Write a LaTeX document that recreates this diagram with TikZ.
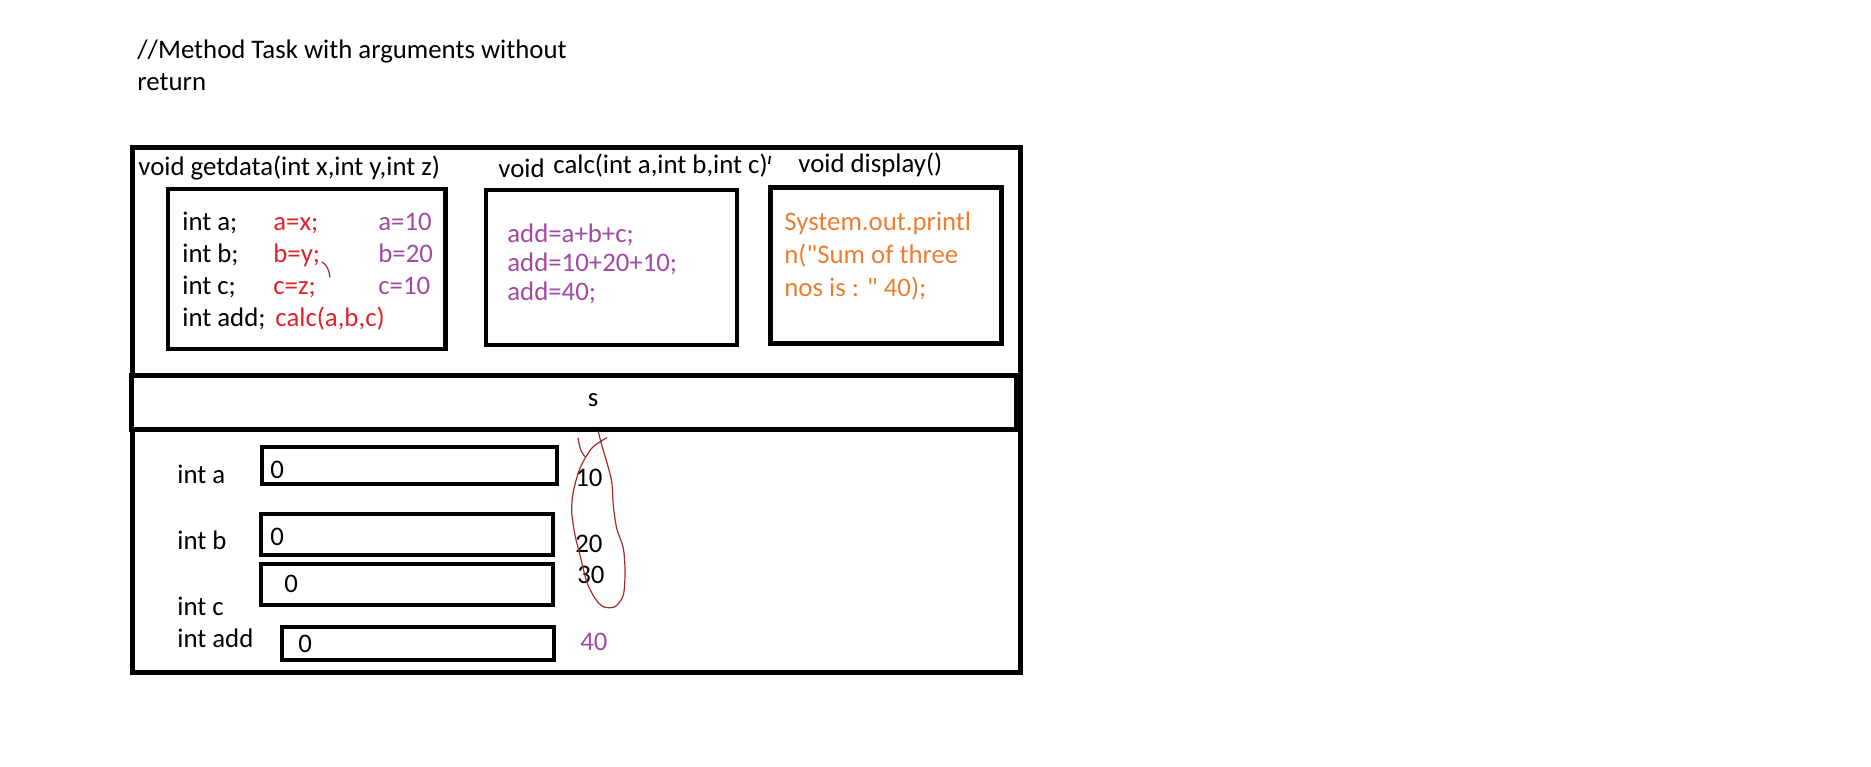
\documentclass[tikz,border=0pt]{standalone}
\usepackage{fontspec}
\setmainfont{Carlito}[Ligatures=TeXOff]
\usetikzlibrary{positioning}
\definecolor{codered}{RGB}{228,32,40}
\definecolor{codepurple}{RGB}{163,73,164}
\definecolor{codeorange}{RGB}{237,125,49}
\definecolor{inkred}{RGB}{165,42,42}

\begin{document}
\begin{tikzpicture}[
    x=0.5pt, y=-0.5pt,
    txt/.style={anchor=base west, inner sep=0pt,
                font=\fontsize{13.4pt}{15pt}\selectfont},
    frame/.style={draw, line width=2.5pt},
    cell/.style={draw, line width=2.4pt},
    ink/.style={draw=inkred, line width=0.6pt, line cap=round, line join=round}
]
\useasboundingbox (0,0) rectangle (1871,766);

% title
\node[txt] (title)  at (137,58) {//Method Task with arguments without};
\node[txt] (title2) at (137,90) {return};

% outer frame and s band
\draw[frame] (132.5,147) rectangle (1020,672);
\draw[frame, fill=white] (131,375) rectangle (1016,429);
\node[txt, anchor=base] (s) at (593,406) {s};

% getdata
\node[txt] (getdata) at (138,175) {void getdata(int x,int y,int z)};
\draw[cell] (168,189) rectangle (445.5,349);
\foreach \decl/\asg/\val [count=\i from 0] in
    {int a;/a=x;/a=10, int b;/b=y;/b=20, int c;/c=z;/c=10} {
  \node[txt] (decl\i) at (182,230+32*\i) {\decl};
  \node[txt, text=codered] (asg\i) at (273,230+32*\i) {\asg};
  \node[txt, text=codepurple] (val\i) at (378,230+32*\i) {\val};
}
\node[txt] (decladd) at (182,326) {int add;};
\node[txt, text=codered] (call) at (275,326) {calc(a,b,c)};
\draw[ink] (322,262) .. controls (327,265) and (329,270) .. (330,277);

% calc
\node[txt] (void) at (498,177) {void};
\node[txt] (calc) at (553,173) {calc(int a,int b,int c)};
\draw[line width=0.9pt] (770,156) -- (769,164);
\draw[cell] (486,190) rectangle (737,345);
\foreach \ln [count=\i from 0] in {add=a+b+c;, add=10+20+10;, add=40;}
  \node[txt, text=codepurple] (sum\i) at (507,242+29*\i) {\ln};

% display
\node[txt] (display) at (798,172) {void display()};
\draw[cell] (770.5,187.5) rectangle (1001.5,343.5);
\node[txt, text=codeorange] (out0) at (784,230) {System.out.printl};
\node[txt, text=codeorange] (out1) at (784,263) {n("Sum of three};
\node[txt, text=codeorange] (out2) at (784,296) {nos is : " 40);};

% variables in memory
\draw[cell] (262,447) rectangle (557,484);
\draw[cell] (261,514) rectangle (553,555);
\draw[cell] (261,564) rectangle (553,605);
\draw[cell] (282,627) rectangle (554,660);
\node[txt] (vara)   at (177,483) {int a};
\node[txt] (varb)   at (177,549) {int b};
\node[txt] (varc)   at (177,615) {int c};
\node[txt] (varadd) at (177,647) {int add};
\node[txt] (zeroa)   at (270,478) {0};
\node[txt] (zerob)   at (270,545) {0};
\node[txt] (zeroc)   at (284,592) {0};
\node[txt] (zeroadd) at (298,652) {0};
\node[txt] (newa) at (575,486) {10};
\node[txt] (newb) at (575,552) {20};
\node[txt] (newc) at (577,583) {30};
\node[txt, text=codepurple] (newadd) at (580,650) {40};

% hand drawn loop
\draw[ink] plot[smooth] coordinates {(606.7,437.7) (591.7,448.3) (580,468.3)
  (573.3,491.7) (571.7,511.7) (575,535) (580,555) (586.7,581.7) (595,598.3)
  (603.3,606.7) (615,606.7) (623.3,595) (625,571.7) (623.3,548.3)
  (616.7,528.3) (613.3,505) (611.7,481.7) (606.7,461.7) (601.7,445)
  (598.3,431.7)};
\draw[ink] plot[smooth] coordinates {(578,438) (580.7,450) (585,456.7)};

\end{tikzpicture}
\end{document}
